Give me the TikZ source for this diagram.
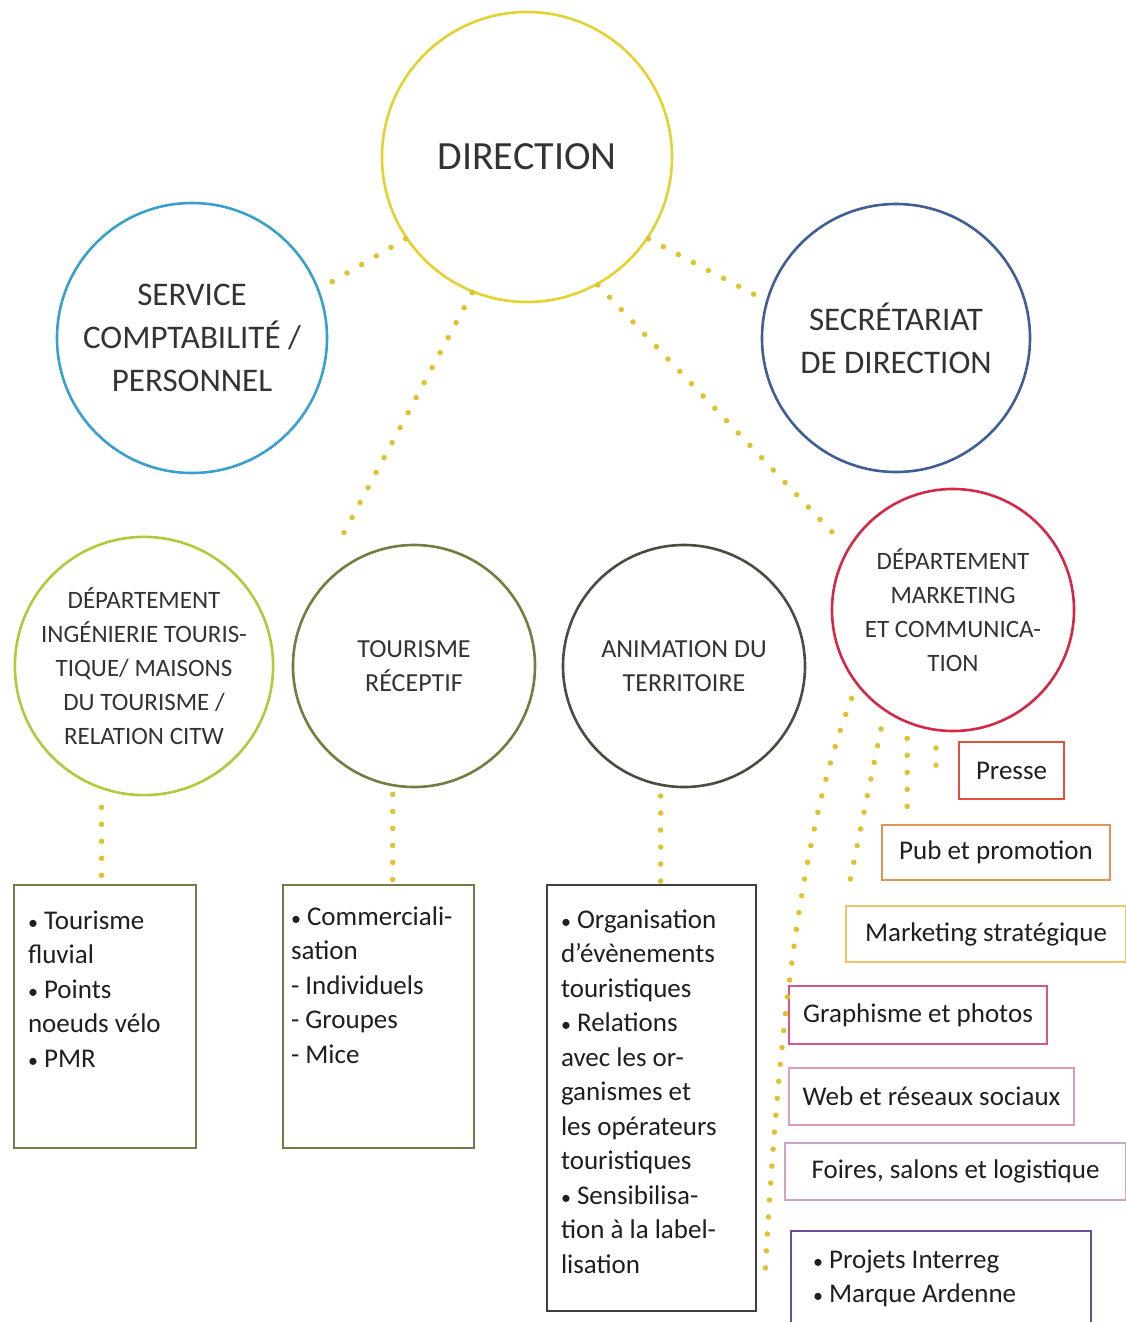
\documentclass[tikz,border=0pt]{standalone}
\usepackage{fontspec}
\setmainfont{Carlito}
\definecolor{cdir}{HTML}{E3D22F}
\definecolor{csvc}{HTML}{39A0CC}
\definecolor{csec}{HTML}{3F5E96}
\definecolor{cing}{HTML}{B2C93B}
\definecolor{ctou}{HTML}{707E3F}
\definecolor{cani}{HTML}{4A4C40}
\definecolor{cmkt}{HTML}{D42846}
\definecolor{dotc}{HTML}{DEC22E}
\definecolor{txtc}{HTML}{333333}
\definecolor{bing}{HTML}{767D45}
\definecolor{btou}{HTML}{747B44}
\definecolor{bani}{HTML}{404040}
\definecolor{bpresse}{HTML}{E4503C}
\definecolor{bpub}{HTML}{E39352}
\definecolor{bms}{HTML}{EDC567}
\definecolor{bgra}{HTML}{D2568C}
\definecolor{bweb}{HTML}{DE9BBB}
\definecolor{bfoi}{HTML}{CFA3CC}
\definecolor{bproj}{HTML}{6A4C97}
\newcommand{\btxt}[4]{\begin{minipage}[t][#1][t]{#2}\raggedright\rule{0pt}{#3}#4\end{minipage}}
\newcommand{\bul}{{\fontsize{20}{20}\selectfont•}}
\begin{document}
\begin{tikzpicture}[x=1pt,y=-1pt,
  circ/.style={circle, line width=2.6pt, inner sep=0pt, align=center, text=txtc},
  dotline/.style={draw=dotc, line width=5.5pt, line cap=round, dash pattern=on 0pt off 17pt},
  tbox/.style={rectangle, line width=2pt, inner ysep=0pt, text=black!88, font=\fontsize{27}{34.5}\selectfont},
  lbox/.style={rectangle, line width=2pt, inner sep=0pt, align=center, text=black!88, font=\fontsize{27}{32}\selectfont}]
\clip (0,0) rectangle (1126,1322);
\fill[white] (0,0) rectangle (1126,1322);

% circles
\node[circ, draw=cdir, minimum size=290pt, font=\fontsize{40}{48}\selectfont] (dir) at (527,157) {\raisebox{-3pt}{DIRECTION}};
\node[circ, draw=csvc, minimum size=270pt, font=\fontsize{33}{43}\selectfont] (svc) at (192,338) {SERVICE\\COMPTABILITÉ /\\PERSONNEL};
\node[circ, draw=csec, minimum size=268pt, font=\fontsize{33}{43}\selectfont] (sec) at (896,338) {SECRÉTARIAT\\DE DIRECTION};
\node[circ, draw=cing, minimum size=244pt, font=\fontsize{25}{34}\selectfont] (ing) at (144,666) {DÉPARTEMENT\\INGÉNIERIE TOURIS-\\TIQUE/ MAISONS\\DU TOURISME /\\RELATION CITW};
\node[circ, draw=ctou, minimum size=242pt, font=\fontsize{26}{34}\selectfont] (tou) at (414,666) {TOURISME\\RÉCEPTIF};
\node[circ, draw=cani, minimum size=242pt, font=\fontsize{26}{34}\selectfont] (ani) at (684,666) {ANIMATION DU\\TERRITOIRE};
\node[circ, draw=cmkt, minimum size=242pt, font=\fontsize{25}{34}\selectfont] (mkt) at (953,610) {DÉPARTEMENT\\MARKETING\\ET COMMUNICA-\\TION};

% boxes with lists
\node[tbox, draw=bing, inner xsep=14pt, anchor=north west] (ingbox) at (13,884)
  {\btxt{263pt}{154pt}{44pt}{\bul\ Tourisme\\fluvial\\\bul\ Points\\noeuds vélo\\\bul\ PMR}};
\node[tbox, draw=btou, inner xsep=8pt, anchor=north west] (toubox) at (282,884)
  {\btxt{263pt}{175pt}{40pt}{\bul\ Commerciali-\\sation\\- Individuels\\- Groupes\\- Mice}};
\node[tbox, draw=bani, inner xsep=14pt, anchor=north west] (anibox) at (546,884)
  {\btxt{426pt}{181pt}{43pt}{\bul\ Organisation\\d’évènements\\touristiques\\\bul\ Relations\\avec les or-\\ganismes et\\les opérateurs\\touristiques\\\bul\ Sensibilisa-\\tion à la label-\\lisation}};
\node[tbox, draw=bproj, inner xsep=22pt, anchor=north west] (proj) at (790,1230)
  {\btxt{130pt}{256pt}{37pt}{\bul\ Projets Interreg\\\bul\ Marque Ardenne}};

% single-line boxes
\node[lbox, draw=bpresse, minimum width=105pt, minimum height=57pt] (presse) at (1011.5,770.5) {Presse};
\node[lbox, draw=bpub, minimum width=228pt, minimum height=55pt] (pub) at (996,852.5) {Pub et promotion};
\node[lbox, draw=bms, minimum width=280pt, minimum height=56pt] (ms) at (986,934) {Marketing stratégique};
\node[lbox, draw=bgra, minimum width=258pt, minimum height=58pt] (gra) at (918,1015) {Graphisme et photos};
\node[lbox, draw=bweb, minimum width=285pt, minimum height=57pt] (web) at (931.5,1096.5) {Web et réseaux sociaux};
\node[lbox, draw=bfoi, minimum width=341pt, minimum height=57pt] (foi) at (955.5,1171.5) {Foires, salons et logistique};

% connectors from Direction
\coordinate (tfree) at (339,542);
\coordinate (mfree) at (832,532);
\draw[dotline] (dir.214) -- (svc.21);
\draw[dotline] (dir.-34) -- (sec.164);
\draw[dotline] (dir.248) -- (tfree);
\draw[dotline] (dir.-61) -- (mfree);

% connectors from departments to lists
\draw[dotline, shorten <=18pt, shorten >=8pt] (ing.251) -- (ing.251 |- ingbox.north);
\draw[dotline, shorten <=8pt] (tou.260) -- (tou.260 |- toubox.north);
\draw[dotline, shorten <=10pt] (ani.259) -- (ani.259 |- anibox.north);

% marketing connectors
\coordinate (aend) at (765,1275);
\draw[dotline, shorten <=17pt] (mkt.262) -- (mkt.262 |- presse.center);
\draw[dotline, shorten <=15pt, shorten >=10pt] (mkt.248) -- (mkt.248 |- pub.north);
\draw[dotline, shorten <=18pt, shorten >=16pt] (mkt.236) -- (ms.north west);
\draw[dotline, shorten <=14pt] (mkt.218) .. controls (805,820) and (780,1000) .. (aend);
\end{tikzpicture}
\end{document}
